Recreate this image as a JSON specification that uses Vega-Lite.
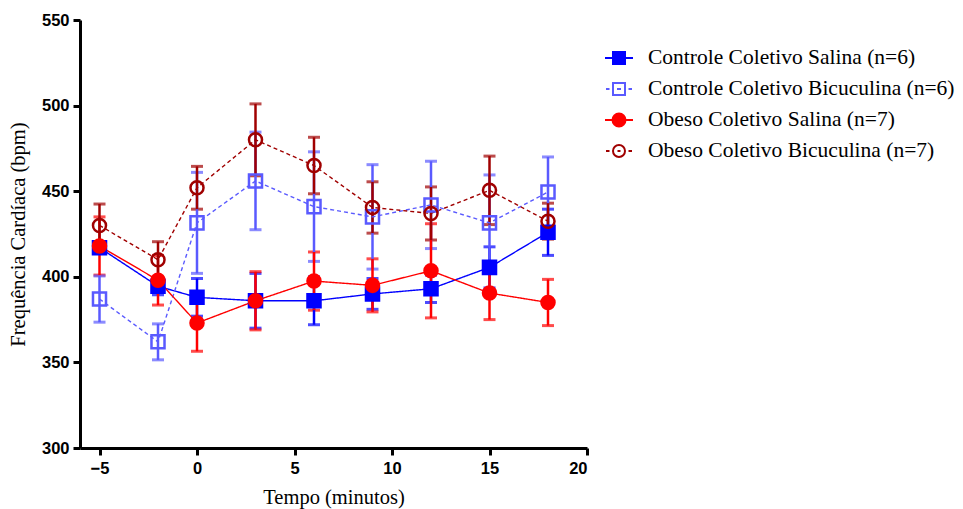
{
  "$schema": "https://vega.github.io/schema/vega-lite/v6.json",
  "width": 507,
  "height": 428,
  "autosize": {"type": "none"},
  "padding": {"left": 80, "top": 20, "right": 376, "bottom": 61},
  "background": "white",
  "config": {
    "view": {"stroke": null},
    "axis": {
      "domainColor": "black",
      "domainWidth": 3,
      "tickColor": "black",
      "tickWidth": 3,
      "tickSize": 7,
      "grid": false,
      "labelFont": "Liberation Sans",
      "labelFontWeight": "bold",
      "labelFontSize": 16.5,
      "labelColor": "black",
      "titleFont": "Liberation Serif",
      "titleFontWeight": "normal",
      "titleFontSize": 20.5,
      "titleColor": "black"
    }
  },
  "data": {
    "values": [
      {"t": -5, "grupo": "Controle Coletivo Salina (n=6)", "media": 417, "ep": 3},
      {"t": -2, "grupo": "Controle Coletivo Salina (n=6)", "media": 394.5, "ep": 5},
      {"t": 0, "grupo": "Controle Coletivo Salina (n=6)", "media": 388, "ep": 11},
      {"t": 3, "grupo": "Controle Coletivo Salina (n=6)", "media": 386, "ep": 16},
      {"t": 6, "grupo": "Controle Coletivo Salina (n=6)", "media": 386, "ep": 14},
      {"t": 9, "grupo": "Controle Coletivo Salina (n=6)", "media": 390, "ep": 9},
      {"t": 12, "grupo": "Controle Coletivo Salina (n=6)", "media": 393, "ep": 8},
      {"t": 15, "grupo": "Controle Coletivo Salina (n=6)", "media": 405.5, "ep": 12},
      {"t": 18, "grupo": "Controle Coletivo Salina (n=6)", "media": 426, "ep": 13.5},
      {"t": -5, "grupo": "Controle Coletivo Bicuculina (n=6)", "media": 387, "ep": 13.5},
      {"t": -2, "grupo": "Controle Coletivo Bicuculina (n=6)", "media": 362, "ep": 10.5},
      {"t": 0, "grupo": "Controle Coletivo Bicuculina (n=6)", "media": 431.5, "ep": 29.5},
      {"t": 3, "grupo": "Controle Coletivo Bicuculina (n=6)", "media": 456, "ep": 28.5},
      {"t": 6, "grupo": "Controle Coletivo Bicuculina (n=6)", "media": 441, "ep": 32},
      {"t": 9, "grupo": "Controle Coletivo Bicuculina (n=6)", "media": 435, "ep": 30.5},
      {"t": 12, "grupo": "Controle Coletivo Bicuculina (n=6)", "media": 442, "ep": 25.5},
      {"t": 15, "grupo": "Controle Coletivo Bicuculina (n=6)", "media": 431.5, "ep": 28},
      {"t": 18, "grupo": "Controle Coletivo Bicuculina (n=6)", "media": 449.5, "ep": 20.5},
      {"t": -5, "grupo": "Obeso Coletivo Salina (n=7)", "media": 418, "ep": 17},
      {"t": -2, "grupo": "Obeso Coletivo Salina (n=7)", "media": 398, "ep": 14.5},
      {"t": 0, "grupo": "Obeso Coletivo Salina (n=7)", "media": 373, "ep": 16.5},
      {"t": 3, "grupo": "Obeso Coletivo Salina (n=7)", "media": 386, "ep": 17},
      {"t": 6, "grupo": "Obeso Coletivo Salina (n=7)", "media": 397.5, "ep": 17},
      {"t": 9, "grupo": "Obeso Coletivo Salina (n=7)", "media": 395, "ep": 15.5},
      {"t": 12, "grupo": "Obeso Coletivo Salina (n=7)", "media": 403.5, "ep": 27.5},
      {"t": 15, "grupo": "Obeso Coletivo Salina (n=7)", "media": 390.5, "ep": 15.5},
      {"t": 18, "grupo": "Obeso Coletivo Salina (n=7)", "media": 385, "ep": 13.5},
      {"t": -5, "grupo": "Obeso Coletivo Bicuculina (n=7)", "media": 430, "ep": 12.5},
      {"t": -2, "grupo": "Obeso Coletivo Bicuculina (n=7)", "media": 410, "ep": 10.5},
      {"t": 0, "grupo": "Obeso Coletivo Bicuculina (n=7)", "media": 452, "ep": 12.5},
      {"t": 3, "grupo": "Obeso Coletivo Bicuculina (n=7)", "media": 480, "ep": 21},
      {"t": 6, "grupo": "Obeso Coletivo Bicuculina (n=7)", "media": 465, "ep": 16.5},
      {"t": 9, "grupo": "Obeso Coletivo Bicuculina (n=7)", "media": 440.5, "ep": 15},
      {"t": 12, "grupo": "Obeso Coletivo Bicuculina (n=7)", "media": 437, "ep": 15.5},
      {"t": 15, "grupo": "Obeso Coletivo Bicuculina (n=7)", "media": 450.5, "ep": 20},
      {"t": 18, "grupo": "Obeso Coletivo Bicuculina (n=7)", "media": 432.5, "ep": 10.5}
    ]
  },
  "encoding": {
    "x": {
      "field": "t",
      "type": "quantitative",
      "scale": {"domain": [-6, 20], "nice": false, "zero": false},
      "axis": {"values": [-5, 0, 5, 10, 15, 20], "title": "Tempo (minutos)", "labelPadding": 5, "titlePadding": 11}
    },
    "y": {
      "field": "media",
      "type": "quantitative",
      "scale": {"domain": [300, 550], "nice": false, "zero": false},
      "axis": {"values": [300, 350, 400, 450, 500, 550], "title": "Frequência Cardíaca (bpm)", "labelPadding": 4, "titlePadding": 13}
    }
  },
  "layer": [
    {
      "data": {"values": [{}]},
      "mark": {"type": "rule", "color": "#333333", "strokeWidth": 3.5, "strokeDash": [12, 7]},
      "encoding": {
        "x": {"datum": 0, "type": "quantitative"},
        "y": {"datum": 555, "type": "quantitative"},
        "y2": {"datum": 300}
      }
    },
    {
      "mark": {
        "type": "errorbar",
        "ticks": {"size": 12, "thickness": 3},
        "rule": {"strokeWidth": 2.5}
      },
      "encoding": {
        "y": {"field": "media", "type": "quantitative"},
        "yError": {"field": "ep"},
        "color": {
          "field": "grupo",
          "type": "nominal",
          "scale": {
            "domain": ["Controle Coletivo Salina (n=6)", "Controle Coletivo Bicuculina (n=6)", "Obeso Coletivo Salina (n=7)", "Obeso Coletivo Bicuculina (n=7)"],
            "range": ["#0000FF", "#5A5AFF", "#FF0000", "#A00000"]
          },
          "legend": {
            "orient": "none",
            "legendX": 528,
            "legendY": 27,
            "title": null,
            "padding": 0,
            "labelFont": "Liberation Serif",
            "labelFontSize": 21.5,
            "labelColor": "black",
            "labelOffset": 18,
            "labelLimit": 400,
            "symbolSize": 400,
            "symbolStrokeWidth": 2,
            "rowPadding": 9,
            "encode": {
              "symbols": {
                "update": {
                  "shape": {"signal": "datum.value == 'Controle Coletivo Salina (n=6)' ? 'M-1.4,0H1.4M-0.6,-0.6H0.6V0.6H-0.6Z' : datum.value == 'Controle Coletivo Bicuculina (n=6)' ? 'M-1.3,0H-0.95M0.95,0H1.3M-0.6,-0.6H0.6V0.6H-0.6ZM-0.2,0H0.2' : datum.value == 'Obeso Coletivo Salina (n=7)' ? 'M-1.4,0H1.4M-0.65,0A0.65,0.65 0 1,0 0.65,0A0.65,0.65 0 1,0 -0.65,0Z' : 'M-1.3,0H-0.95M0.95,0H1.3M-0.6,0A0.6,0.6 0 1,0 0.6,0A0.6,0.6 0 1,0 -0.6,0ZM-0.15,0H0.15'"},
                  "fill": {"signal": "datum.value == 'Controle Coletivo Salina (n=6)' ? '#0000FF' : datum.value == 'Obeso Coletivo Salina (n=7)' ? '#FF0000' : 'transparent'"},
                  "fillOpacity": {"signal": "datum.value == 'Controle Coletivo Salina (n=6)' || datum.value == 'Obeso Coletivo Salina (n=7)' ? 1 : 0"},
                  "stroke": {"signal": "datum.value == 'Controle Coletivo Salina (n=6)' ? '#0000FF' : datum.value == 'Controle Coletivo Bicuculina (n=6)' ? '#5A5AFF' : datum.value == 'Obeso Coletivo Salina (n=7)' ? '#FF0000' : '#A00000'"},
                  "strokeOpacity": {"value": 1},
                  "strokeWidth": {"value": 2},
                  "opacity": {"value": 1}
                }
              }
            }
          }
        }
      }
    },
    {
      "mark": {"type": "line", "strokeWidth": 1.4},
      "encoding": {
        "stroke": {
          "field": "grupo",
          "type": "nominal",
          "scale": {"range": ["#5A5AFF", "#0000FF", "#A00000", "#FF0000"]},
          "legend": null
        },
        "strokeDash": {
          "field": "grupo",
          "type": "nominal",
          "scale": {"range": [[4, 3], [1, 0], [4, 3], [1, 0]]},
          "legend": null
        }
      }
    },
    {
      "mark": {"type": "point", "size": 170, "strokeWidth": 2.5, "opacity": 1},
      "encoding": {
        "shape": {
          "field": "grupo",
          "type": "nominal",
          "scale": {"range": ["square", "square", "circle", "circle"]},
          "legend": null
        },
        "fill": {
          "field": "grupo",
          "type": "nominal",
          "scale": {"range": ["transparent", "#0000FF", "transparent", "#FF0000"]},
          "legend": null
        },
        "stroke": {"field": "grupo", "type": "nominal", "legend": null}
      }
    }
  ]
}
